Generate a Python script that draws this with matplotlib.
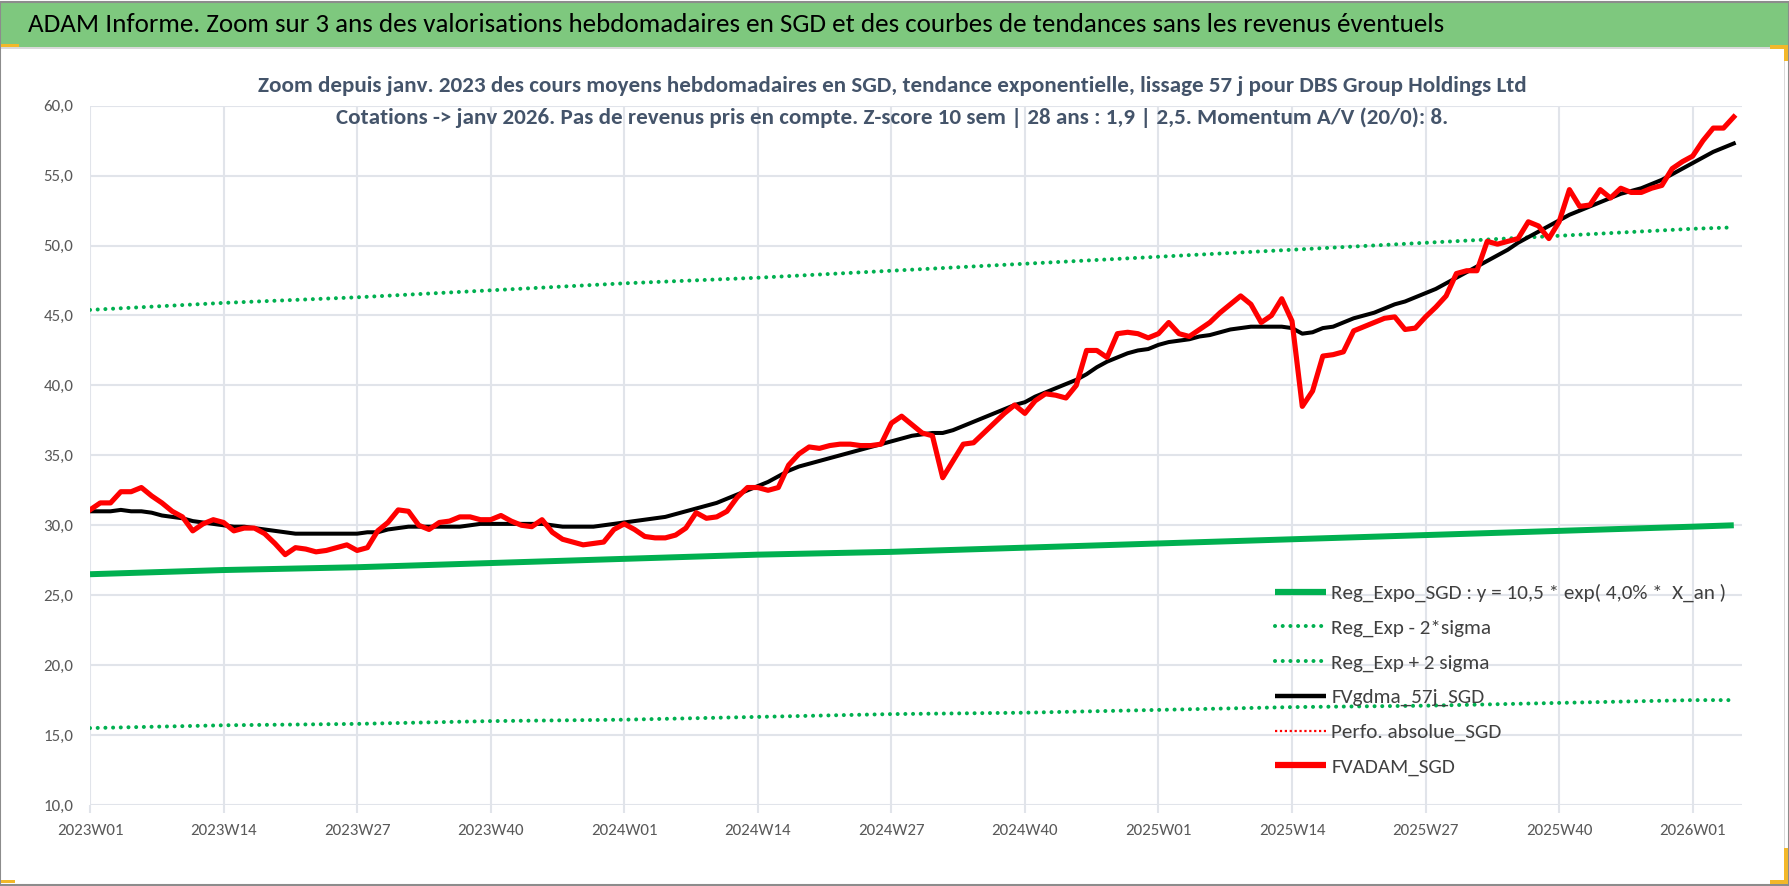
import matplotlib
matplotlib.use("Agg")
import matplotlib.pyplot as plt
from matplotlib.patches import Rectangle
from matplotlib.lines import Line2D
from matplotlib.ticker import FuncFormatter

plt.rcParams['font.family'] = ['Carlito', 'Liberation Sans Narrow', 'Lato', 'DejaVu Sans']

# weekly values, index 0 = 2023W01 ... 160 = 2026W05
fvadam = [
    31.1, 31.6, 31.6, 32.4, 32.4, 32.7, 32.1, 31.6, 31.0, 30.6,
    29.6, 30.1, 30.4, 30.2, 29.6, 29.8, 29.8, 29.4, 28.7, 27.9,
    28.4, 28.3, 28.1, 28.2, 28.4, 28.6, 28.2, 28.4, 29.6, 30.2,
    31.1, 31.0, 30.0, 29.7, 30.2, 30.3, 30.6, 30.6, 30.4, 30.4,
    30.7, 30.3, 30.0, 29.9, 30.4, 29.5, 29.0, 28.8,
    28.6, 28.7, 28.8, 29.7, 30.1, 29.7, 29.2, 29.1, 29.1, 29.3,
    29.8, 30.9, 30.5, 30.6, 31.0, 32.0, 32.7, 32.7, 32.5, 32.7,
    34.3, 35.1, 35.6, 35.5, 35.7, 35.8, 35.8, 35.7, 35.7, 35.8,
    37.3, 37.8, 37.2, 36.6, 36.4, 33.4, 34.6, 35.8, 35.9, 36.6,
    37.3, 38.0, 38.6, 38.0, 38.9, 39.4, 39.3, 39.1, 40.0,
    42.5, 42.5, 42.0, 43.7, 43.8, 43.7, 43.4, 43.7, 44.5, 43.7,
    43.5, 44.0, 44.5, 45.2, 45.8, 46.4, 45.8, 44.5, 45.0, 46.2,
    44.6, 38.5, 39.6, 42.1, 42.2, 42.4, 43.9, 44.2, 44.5, 44.8,
    44.9, 44.0, 44.1, 44.9, 45.6, 46.4, 48.0, 48.2,
    48.2, 50.3, 50.1, 50.3, 50.5, 51.7, 51.4, 50.5, 51.7, 54.0,
    52.8, 52.9, 54.0, 53.4, 54.1, 53.8, 53.8, 54.1, 54.3, 55.5,
    56.0, 56.4, 57.5, 58.4, 58.4, 59.2,
]

fvgdma = [
    31.0, 31.0, 31.0, 31.1, 31.0, 31.0, 30.9, 30.7, 30.6, 30.5,
    30.3, 30.2, 30.1, 30.0, 29.9, 29.9, 29.8, 29.7, 29.6, 29.5,
    29.4, 29.4, 29.4, 29.4, 29.4, 29.4, 29.4, 29.5, 29.5, 29.7,
    29.8, 29.9, 29.9, 29.9, 29.9, 29.9, 29.9, 30.0, 30.1, 30.1,
    30.1, 30.1, 30.1, 30.1, 30.1, 30.0, 29.9, 29.9,
    29.9, 29.9, 30.0, 30.1, 30.2, 30.3, 30.4, 30.5, 30.6, 30.8,
    31.0, 31.2, 31.4, 31.6, 31.9, 32.2, 32.5, 32.8, 33.1, 33.5,
    33.9, 34.2, 34.4, 34.6, 34.8, 35.0, 35.2, 35.4, 35.6, 35.8,
    36.0, 36.2, 36.4, 36.5, 36.6, 36.6, 36.8, 37.1, 37.4, 37.7,
    38.0, 38.3, 38.6, 38.8, 39.2, 39.5, 39.8, 40.1, 40.4,
    40.8, 41.3, 41.7, 42.0, 42.3, 42.5, 42.6, 42.9, 43.1, 43.2,
    43.3, 43.5, 43.6, 43.8, 44.0, 44.1, 44.2, 44.2, 44.2, 44.2,
    44.1, 43.7, 43.8, 44.1, 44.2, 44.5, 44.8, 45.0, 45.2, 45.5,
    45.8, 46.0, 46.3,
    46.6, 46.9, 47.3, 47.7, 48.1, 48.5, 48.9, 49.3, 49.7, 50.2,
    50.6, 51.0, 51.4, 51.8, 52.2, 52.5, 52.8, 53.1, 53.4, 53.7,
    53.9, 54.1, 54.4, 54.7, 55.1, 55.5, 55.9, 56.3, 56.7, 57.0,
    57.3,
]

# regression curves read at the quarterly ticks (+ last week)
reg_weeks = [0, 13, 26, 39, 52, 65, 78, 91, 104, 117, 130, 143, 156, 160]
reg_expo = [26.5, 26.8, 27.0, 27.3, 27.6, 27.9, 28.1, 28.4, 28.7, 29.0, 29.3, 29.6, 29.9, 30.0]
reg_minus = [15.5, 15.7, 15.8, 16.0, 16.1, 16.3, 16.5, 16.6, 16.8, 17.0, 17.1, 17.3, 17.5, 17.5]
reg_plus = [45.4, 45.9, 46.3, 46.8, 47.3, 47.7, 48.2, 48.7, 49.2, 49.7, 50.2, 50.7, 51.2, 51.3]

tick_weeks = [0, 13, 26, 39, 52, 65, 78, 91, 104, 117, 130, 143, 156]
tick_labels = ["2023W01", "2023W14", "2023W27", "2023W40", "2024W01", "2024W14",
               "2024W27", "2024W40", "2025W01", "2025W14", "2025W27", "2025W40",
               "2026W01"]

labels = ["Reg_Expo_SGD : y = 10,5 * exp( 4,0% *  X_an )",
          "Reg_Exp - 2*sigma",
          "Reg_Exp + 2 sigma",
          "FVgdma_57j_SGD",
          "Perfo. absolue_SGD",
          "FVADAM_SGD"]

W, H = 1790, 886
fig = plt.figure(figsize=(W / 100, H / 100), dpi=100)
renderer = fig.canvas.get_renderer()


def fit_width(txt, target_px):
    # scale font so the text takes the same width as in the reference
    w = txt.get_window_extent(renderer).width
    txt.set_fontsize(txt.get_fontsize() * target_px / w)
    return txt.get_fontsize()


# banner + frame
fig.patches.append(Rectangle((0, 1 - 47 / H), 1, 45 / H, transform=fig.transFigure,
                             facecolor='#7EC87E', edgecolor='none', zorder=0))
fig.patches.append(Rectangle((0, 1 - 49 / H), 1785 / W, 2 / H, transform=fig.transFigure,
                             facecolor='#D9D9D9', edgecolor='none', zorder=0))
fig.patches.append(Rectangle((1784 / W, 0), 1.5 / W, 1 - 48 / H, transform=fig.transFigure,
                             facecolor='#D9D9D9', edgecolor='none', zorder=0))
fig.patches.append(Rectangle((0.5 / W, 1.5 / H), 1 - 1 / W, 1 - 3 / H, transform=fig.transFigure,
                             facecolor='none', edgecolor='#8C8C8C', lw=1.5, zorder=1))
yellow = '#F2B82A'
for (x0, y0, w, h) in [(1770, 45, 18, 4), (1784, 45, 4, 16), (1770, 880, 18, 4),
                       (1784, 848, 4, 36), (1, 880, 14, 3), (1, 44, 18, 3)]:
    fig.patches.append(Rectangle((x0 / W, 1 - (y0 + h) / H), w / W, h / H,
                                 transform=fig.transFigure, facecolor=yellow,
                                 edgecolor='none', zorder=2))

title = fig.text(28 / W, 1 - 25 / H,
                 "ADAM Informe. Zoom sur 3 ans des valorisations hebdomadaires en SGD et des "
                 "courbes de tendances sans les revenus éventuels",
                 fontsize=20, color='black', va='center', ha='left')
fit_width(title, 1411)

sub_color = '#44546A'
sub1 = fig.text(892 / W, 1 - 86 / H,
                "Zoom depuis janv. 2023 des cours moyens hebdomadaires en SGD, tendance exponentielle, "
                "lissage 57 j pour DBS Group Holdings Ltd",
                fontsize=17, fontweight='bold', color=sub_color, ha='center', va='center')
sub_fs = fit_width(sub1, 1265)
sub2 = fig.text(892 / W, 1 - 118 / H,
                "Cotations -> janv 2026. Pas de revenus pris en compte. Z-score 10 sem | 28 ans : 1,9 | "
                "2,5. Momentum A/V (20/0): 8.",
                fontsize=sub_fs, fontweight='bold', color=sub_color, ha='center', va='center')

# font sizes for ticks and legend, sized from reference widths
probe = fig.text(0, 0, "2026W01", fontsize=13)
tick_fs = fit_width(probe, 66)
probe.remove()
probe = fig.text(0, 0, labels[0], fontsize=14)
leg_fs = fit_width(probe, 396)
probe.remove()

ax = fig.add_axes([90 / W, 1 - 805 / H, (1742 - 90) / W, (805 - 105.7) / H])
ax.set_facecolor('none')

weeks = list(range(len(fvadam)))
green = '#00B050'
dots = (0, (0.01, 1.9))

ax.plot(reg_weeks, reg_expo, color=green, lw=4.3, solid_capstyle='butt', zorder=3)
ax.plot(reg_weeks, reg_minus, color=green, lw=2.9, linestyle=dots,
        dash_capstyle='round', zorder=3)
ax.plot(reg_weeks, reg_plus, color=green, lw=2.9, linestyle=dots,
        dash_capstyle='round', zorder=3)
ax.plot(weeks, fvgdma, color='black', lw=2.9, zorder=4, solid_joinstyle='round')
ax.plot(weeks, fvadam, color='#FF0000', lw=3.7, zorder=5, solid_joinstyle='round')

ax.set_xlim(0, 160.8)
ax.set_ylim(10, 60)
ax.set_yticks(range(10, 61, 5))
ax.yaxis.set_major_formatter(FuncFormatter(lambda v, p: f"{v:.1f}".replace('.', ',')))
ax.set_xticks(tick_weeks)
ax.set_xticklabels(tick_labels)
ax.grid(True, color='#E1E4EA', lw=1.5, zorder=0)
ax.set_axisbelow(True)
for s in ax.spines.values():
    s.set_visible(False)
ax.tick_params(axis='x', length=6, width=1.5, color='#E1E4EA', labelsize=tick_fs,
               labelcolor='#595959', pad=8)
ax.tick_params(axis='y', length=0, labelsize=tick_fs, labelcolor='#595959', pad=12)

handles = [
    Line2D([], [], color=green, lw=4.5, solid_capstyle='butt'),
    Line2D([], [], color=green, lw=2.9, linestyle=dots, dash_capstyle='round'),
    Line2D([], [], color=green, lw=2.9, linestyle=dots, dash_capstyle='round'),
    Line2D([], [], color='black', lw=3.2, solid_capstyle='butt'),
    Line2D([], [], color='#FF0000', lw=1.6, linestyle=(0, (1, 1.2))),
    Line2D([], [], color='#FF0000', lw=4.5, solid_capstyle='butt'),
]
hl = 51 / (leg_fs * 100 / 72)
fig.legend(handles, labels, loc='upper left', bbox_to_anchor=(1275 / W, 1 - 584 / H),
           frameon=False, fontsize=leg_fs, labelcolor='#404040', handlelength=hl,
           handletextpad=0.25, labelspacing=0.79, borderpad=0, borderaxespad=0)

fig.savefig('out.png', dpi=100)
